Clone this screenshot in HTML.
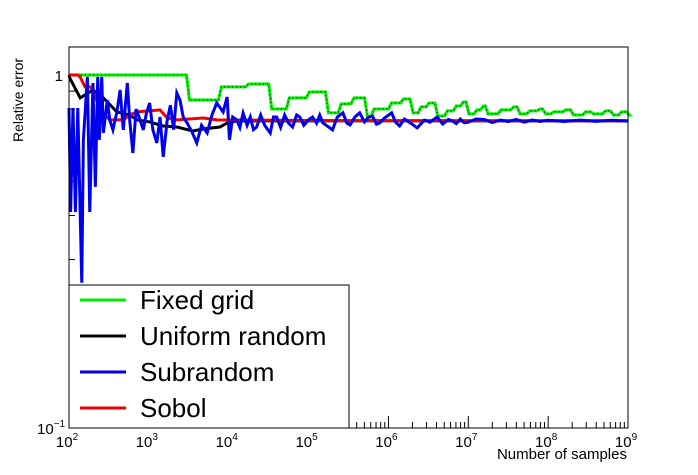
<!DOCTYPE html>
<html><head><meta charset="utf-8"><style>
html,body{margin:0;padding:0;background:#fff;}
svg{display:block;font-family:"Liberation Sans",sans-serif;}
</style></head><body>
<svg id="chart" width="698" height="475" viewBox="0 0 698 475" xmlns="http://www.w3.org/2000/svg">
<rect x="0" y="0" width="698" height="475" fill="#fff"/>
<g id="ticks"></g>
<g id="series"></g>
<rect x="69" y="47" width="559" height="381" fill="none" stroke="#000" stroke-width="1"/>
<g id="labels"></g>
<text transform="translate(23,142) rotate(-90)" font-size="14" text-anchor="start">Relative error</text>
<text x="627" y="459" font-size="15" text-anchor="end">Number of samples</text>
<g id="legend">
<rect x="69" y="285" width="280" height="143" fill="#fff" stroke="#000" stroke-width="1"/>
</g>
</svg>
<script>
const xTicksExp = [2,3,4,5,6,7,8,9];
const yRange = [0.1, 1.2];
const legendLabels = ["Fixed grid","Uniform random","Subrandom","Sobol"];
const seriesColors = ["#00ee00","#000000","#0000ee","#ee0000"];
const gridLogN = [2,3.49,3.89,4.23,4.52,4.74,4.99,5.23,5.39,5.55,5.72,5.8,6.02,6.17,6.29,6.39,6.49,6.6,6.72,6.83,6.92,6.99,7.09,7.17,7.23,7.39,7.55,7.63,7.75,7.88,7.95,8.05,8.2,8.3,8.45,8.55,8.7,8.8,8.9,9.0];
const gridVal = [1.0,0.849,0.925,0.943,0.801,0.861,0.895,0.781,0.828,0.861,0.760,0.801,0.833,0.855,0.781,0.812,0.833,0.765,0.791,0.817,0.838,0.776,0.796,0.817,0.776,0.796,0.812,0.776,0.791,0.801,0.776,0.786,0.796,0.770,0.786,0.776,0.791,0.770,0.786,0.770];
const uniLogN = [2.0,2.01,2.14,2.30,2.43,2.60,2.76,2.85,3.01,3.18,3.35,3.55,3.68,3.89,3.98,4.10,5.0,6.0,7.0,8.0,9.0];
const uniVal = [1.0,0.98,0.861,0.907,0.861,0.786,0.770,0.746,0.736,0.717,0.712,0.694,0.703,0.712,0.731,0.741,0.741,0.742,0.741,0.741,0.741];
const subLogN = [2.0,2.02,2.05,2.08,2.11,2.16,2.18,2.23,2.26,2.30,2.33,2.36,2.38,2.41,2.43,2.48,2.51,2.55,2.60,2.64,2.68,2.73,2.76,2.80,2.84,2.89,2.93,2.97,3.01,3.05,3.10,3.14,3.18,3.23,3.27,3.31,3.35,3.39,3.43,3.48,3.54,3.60,3.66,3.73,3.79,3.85,3.93,3.98,4.01,4.05,4.10,4.14,4.18,4.23,4.27,4.31,4.35,4.40,4.45,4.52,4.56,4.60,4.65,4.70,4.75,4.80,4.85,4.89,4.94,5.0,5.05,5.10,5.14,5.18,5.24,5.30,5.36,5.43,5.48,5.52,5.58,5.64,5.70,5.75,5.80,5.85,5.89,5.95,6.04,6.09,6.14,6.2,6.28,6.36,6.45,6.52,6.61,6.68,6.75,6.8,6.85,6.9,6.95,7.0,7.1,7.2,7.3,7.4,7.5,7.6,7.7,7.8,7.9,8.0,8.2,8.4,8.6,8.8,9.0];
const subVal = [0.806,0.409,0.806,0.409,0.806,0.258,0.655,0.987,0.409,0.949,0.482,0.987,0.655,0.987,0.685,0.849,0.746,0.699,0.786,0.907,0.699,0.949,0.746,0.601,0.800,0.746,0.699,0.780,0.833,0.700,0.642,0.760,0.586,0.746,0.820,0.700,0.889,0.849,0.760,0.731,0.690,0.642,0.720,0.685,0.770,0.833,0.786,0.866,0.655,0.760,0.746,0.710,0.780,0.720,0.760,0.700,0.712,0.770,0.720,0.685,0.760,0.760,0.710,0.770,0.730,0.712,0.770,0.760,0.720,0.746,0.760,0.730,0.770,0.731,0.715,0.699,0.760,0.781,0.730,0.722,0.760,0.781,0.736,0.760,0.765,0.725,0.731,0.755,0.781,0.735,0.717,0.750,0.730,0.708,0.745,0.735,0.760,0.726,0.748,0.741,0.728,0.750,0.732,0.735,0.750,0.748,0.733,0.745,0.738,0.748,0.735,0.745,0.738,0.744,0.738,0.745,0.739,0.744,0.740];
const sobLogN = [2.0,2.11,2.14,2.20,2.26,2.30,2.39,2.51,2.68,2.76,2.85,3.14,3.23,3.35,3.68,3.85,5.0,6.0,7.0,8.0,9.0];
const sobVal = [1.0,1.0,0.987,0.925,0.925,0.907,0.796,0.746,0.746,0.770,0.786,0.796,0.755,0.746,0.755,0.746,0.743,0.742,0.742,0.742,0.742];

const NS="http://www.w3.org/2000/svg";
const X0=69,X1=628,Y0=428,Y1=47;
const lx=(e)=>X0+(e-2)/7*(X1-X0);
const ly=(v)=>Y0-(Math.log10(v)-Math.log10(yRange[0]))/(Math.log10(yRange[1])-Math.log10(yRange[0]))*(Y0-Y1);
function mk(tag,attrs,parent){const e=document.createElementNS(NS,tag);for(const k in attrs)e.setAttribute(k,attrs[k]);parent.appendChild(e);return e;}
const ticks=document.getElementById('ticks'),labels=document.getElementById('labels'),series=document.getElementById('series');
xTicksExp.forEach(e=>{
  const t=mk('line',{x1:lx(e),x2:lx(e),y1:Y0,y2:Y0-12,stroke:'#000'},ticks);
  
  
  const tx=mk('text',{x:lx(e)-2,y:447,'font-size':15,'text-anchor':'middle'},labels);
  
  
  tx.innerHTML='10<tspan dy="-7" font-size="10">'+e+'</tspan>';
  if(e<9){for(let m=2;m<=9;m++){const x=lx(e+Math.log10(m));const mt=mk('line',{x1:x,x2:x,y1:Y0,y2:Y0-6,stroke:'#000'},ticks);
    
    }}
});
[0.2,0.3,0.4,0.5,0.6,0.7,0.8,0.9,1.0].forEach(v=>{
  const len=v===1.0?12:6;
  const t=mk('line',{x1:X0,x2:X0+len,y1:ly(v),y2:ly(v),stroke:'#000'},ticks);
  
  
});
const y1l=mk('text',{x:63,y:ly(1)+6,'font-size':15,'text-anchor':'end'},labels);


y1l.textContent='1';
const y01=mk('text',{x:37,y:Y0+6,'font-size':15},labels);


y01.innerHTML='10<tspan dy="-7" font-size="10">−1</tspan>';
function path(xs,vs,step){let d='';xs.forEach((e,i)=>{const x=lx(e),y=ly(vs[i]);if(i===0)d+='M'+x+','+y;else if(step){d+='L'+(x-1.5)+','+ly(vs[i-1])+'L'+(x+1.5)+','+y;}else d+='L'+x+','+y;});if(step)d+='L'+lx(9)+','+ly(vs[vs.length-1]);return d;}
const g=mk('path',{d:path(gridLogN,gridVal,true),fill:'none',stroke:seriesColors[0],'stroke-width':3},series);


const gd=mk('path',{d:path(gridLogN,gridVal,true),fill:'none',stroke:'#000','stroke-width':1,'stroke-dasharray':'1 3'},series);


const u=mk('path',{d:path(uniLogN,uniVal,false),fill:'none',stroke:seriesColors[1],'stroke-width':3},series);


const s=mk('path',{d:path(sobLogN,sobVal,false),fill:'none',stroke:seriesColors[3],'stroke-width':3},series);


const b=mk('path',{d:path(subLogN,subVal,false),fill:'none',stroke:seriesColors[2],'stroke-width':3},series);


const leg=document.getElementById('legend');
legendLabels.forEach((lab,i)=>{
  const y=300+i*36;
  const ln=mk('line',{x1:80,x2:126,y1:y,y2:y,stroke:seriesColors[i],'stroke-width':3},leg);
  
  
  const t=mk('text',{x:140,y:y+9,'font-size':26},leg);
  
  
  t.textContent=lab;
});
</script>
</body></html>
